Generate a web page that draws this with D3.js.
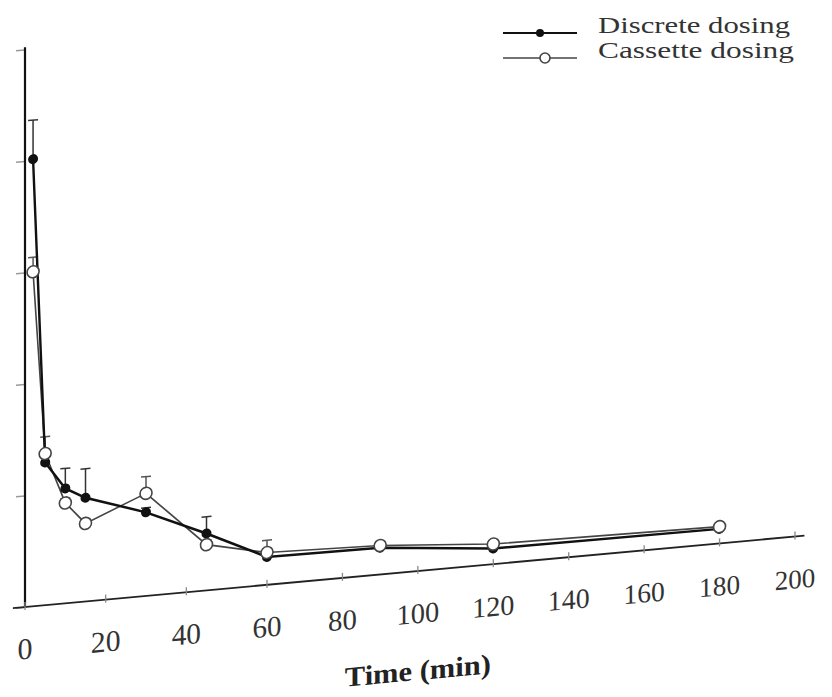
<!DOCTYPE html>
<html>
<head>
<meta charset="utf-8">
<script src="https://cdn.jsdelivr.net/npm/d3@7/dist/d3.min.js"></script>
<style>
  html, body { margin: 0; padding: 0; background: #fff; }
  svg { display: block; }
</style>
</head>
<body>
<div id="chart"></div>
<script>
// Sampling times (min)
const times = [2, 5, 10, 15, 30, 45, 60, 90, 120, 180];
// Discrete dosing: mean and upper error (SD)
const discrete = [4.01, 1.28, 1.03, 0.93, 0.75, 0.51, 0.25, 0.24, 0.14, 0.13];
const discreteErr = [0.35, 0.05, 0.18, 0.26, 0.04, 0.15, 0.05, 0.03, 0.03, 0.03];
// Cassette dosing: mean and upper error (SD)
const cassette = [3.00, 1.36, 0.90, 0.70, 0.92, 0.41, 0.29, 0.26, 0.18, 0.15];
const cassetteErr = [0.13, 0.15, 0.04, 0.04, 0.15, 0.04, 0.11, 0.03, 0.03, 0.03];
// Axis ticks
const xTicks = [0, 20, 40, 60, 80, 100, 120, 140, 160, 180, 200];
const yTicks = [0, 1, 2, 3, 4, 5];
const seriesNames = ["Discrete dosing", "Cassette dosing"];
const xTitle = "Time (min)";

const W = 832, H = 697;
const svg = d3.select("#chart").append("svg")
  .attr("width", W).attr("height", H)
  .style("background", "#fff");

// Scales (time axis is slightly compressed toward the far end)
const x = d3.scaleLinear().domain([0, 60, 200]).range([25, 267, 795]);
const y = d3.scaleLinear().domain([0, 5]).range([607, 49.5]);

// The printed plot is sheared: the time axis rises to the right
const k = -0.0916;
const g = svg.append("g")
  .attr("transform", `matrix(1,${k},0,1,0,${-k * 25})`);

// Y axis: vertical line with short outside ticks (labels not printed)
g.append("g")
  .attr("transform", `translate(${x(0)},0)`)
  .call(d3.axisLeft(y).tickValues(yTicks).tickFormat("").tickSize(9))
  .call(a => a.select(".domain").remove())
  .call(a => a.selectAll(".tick line").attr("stroke", "#999").attr("stroke-width", 1.5));
g.append("line")
  .attr("x1", x(0)).attr("x2", x(0))
  .attr("y1", y(5.02)).attr("y2", y(0))
  .attr("stroke", "#111").attr("stroke-width", 2.2);

// X axis
const fontScale = d3.scaleLinear().domain([0, 200]).range([30, 27]);
g.append("line")
  .attr("x1", x(-3)).attr("x2", x(202.5))
  .attr("y1", y(0)).attr("y2", y(0))
  .attr("stroke", "#222").attr("stroke-width", 1.8);
const xt = g.append("g").selectAll("g.xt").data(xTicks).join("g")
  .attr("class", "xt")
  .attr("transform", d => `translate(${x(d)},${y(0)})`);
xt.append("line").attr("y1", -5).attr("y2", 3)
  .attr("stroke", "#888").attr("stroke-width", 1.3);
xt.append("text")
  .attr("y", 52)
  .attr("text-anchor", "middle")
  .attr("font-family", "'Liberation Serif', 'Times New Roman', serif")
  .attr("font-size", d => fontScale(d))
  .attr("fill", "#333")
  .text(d => d);

g.append("text")
  .attr("x", x(100)).attr("y", y(0) + 109)
  .attr("text-anchor", "middle")
  .attr("font-family", "'Liberation Serif', 'Times New Roman', serif")
  .attr("font-weight", "bold")
  .attr("font-size", 28)
  .attr("fill", "#222")
  .attr("textLength", 146)
  .attr("lengthAdjust", "spacingAndGlyphs")
  .text(xTitle);

// Data series
const disc = times.map((t, i) => ({ t, v: discrete[i], e: discreteErr[i] }));
const cass = times.map((t, i) => ({ t, v: cassette[i], e: cassetteErr[i] }));
const line = d3.line().x(d => x(d.t)).y(d => y(d.v));

function errorBars(data, color) {
  const eb = g.append("g").selectAll("g").data(data).join("g");
  eb.append("line")
    .attr("x1", d => x(d.t)).attr("x2", d => x(d.t))
    .attr("y1", d => y(d.v)).attr("y2", d => y(d.v + d.e))
    .attr("stroke", color).attr("stroke-width", 1.5);
  eb.append("line")
    .attr("x1", d => x(d.t) - 5).attr("x2", d => x(d.t) + 5)
    .attr("y1", d => y(d.v + d.e)).attr("y2", d => y(d.v + d.e))
    .attr("stroke", color).attr("stroke-width", 1.5);
}
errorBars(cass, "#555");
errorBars(disc, "#333");

g.append("path").datum(cass).attr("d", line)
  .attr("fill", "none").attr("stroke", "#444").attr("stroke-width", 1.6);
g.append("path").datum(disc).attr("d", line)
  .attr("fill", "none").attr("stroke", "#111").attr("stroke-width", 2.4);

g.append("g").selectAll("circle").data(disc).join("circle")
  .attr("cx", d => x(d.t)).attr("cy", d => y(d.v)).attr("r", 5)
  .attr("fill", "#111");
g.append("g").selectAll("circle").data(cass).join("circle")
  .attr("cx", d => x(d.t)).attr("cy", d => y(d.v)).attr("r", 6)
  .attr("fill", "#fff").attr("stroke", "#444").attr("stroke-width", 1.6);

// Legend
const legend = svg.append("g");
const legendRows = [
  { name: seriesNames[0], y: 33, filled: true },
  { name: seriesNames[1], y: 58, filled: false }
];
const lr = legend.selectAll("g").data(legendRows).join("g")
  .attr("transform", d => `translate(0,${d.y})`);
lr.append("line").attr("x1", 503).attr("x2", 577)
  .attr("stroke", d => d.filled ? "#111" : "#444")
  .attr("stroke-width", d => d.filled ? 2 : 1.6);
lr.append("circle").attr("cx", d => d.filled ? 540 : 545).attr("r", d => d.filled ? 4 : 5)
  .attr("fill", d => d.filled ? "#111" : "#fff")
  .attr("stroke", d => d.filled ? "none" : "#444").attr("stroke-width", 1.6);
lr.append("text")
  .attr("x", 598).attr("y", 0)
  .attr("font-family", "'Liberation Serif', 'Times New Roman', serif")
  .attr("font-size", 23)
  .attr("fill", "#333")
  .attr("textLength", d => d.filled ? 192 : 196)
  .attr("lengthAdjust", "spacingAndGlyphs")
  .text(d => d.name);
</script>
</body>
</html>
